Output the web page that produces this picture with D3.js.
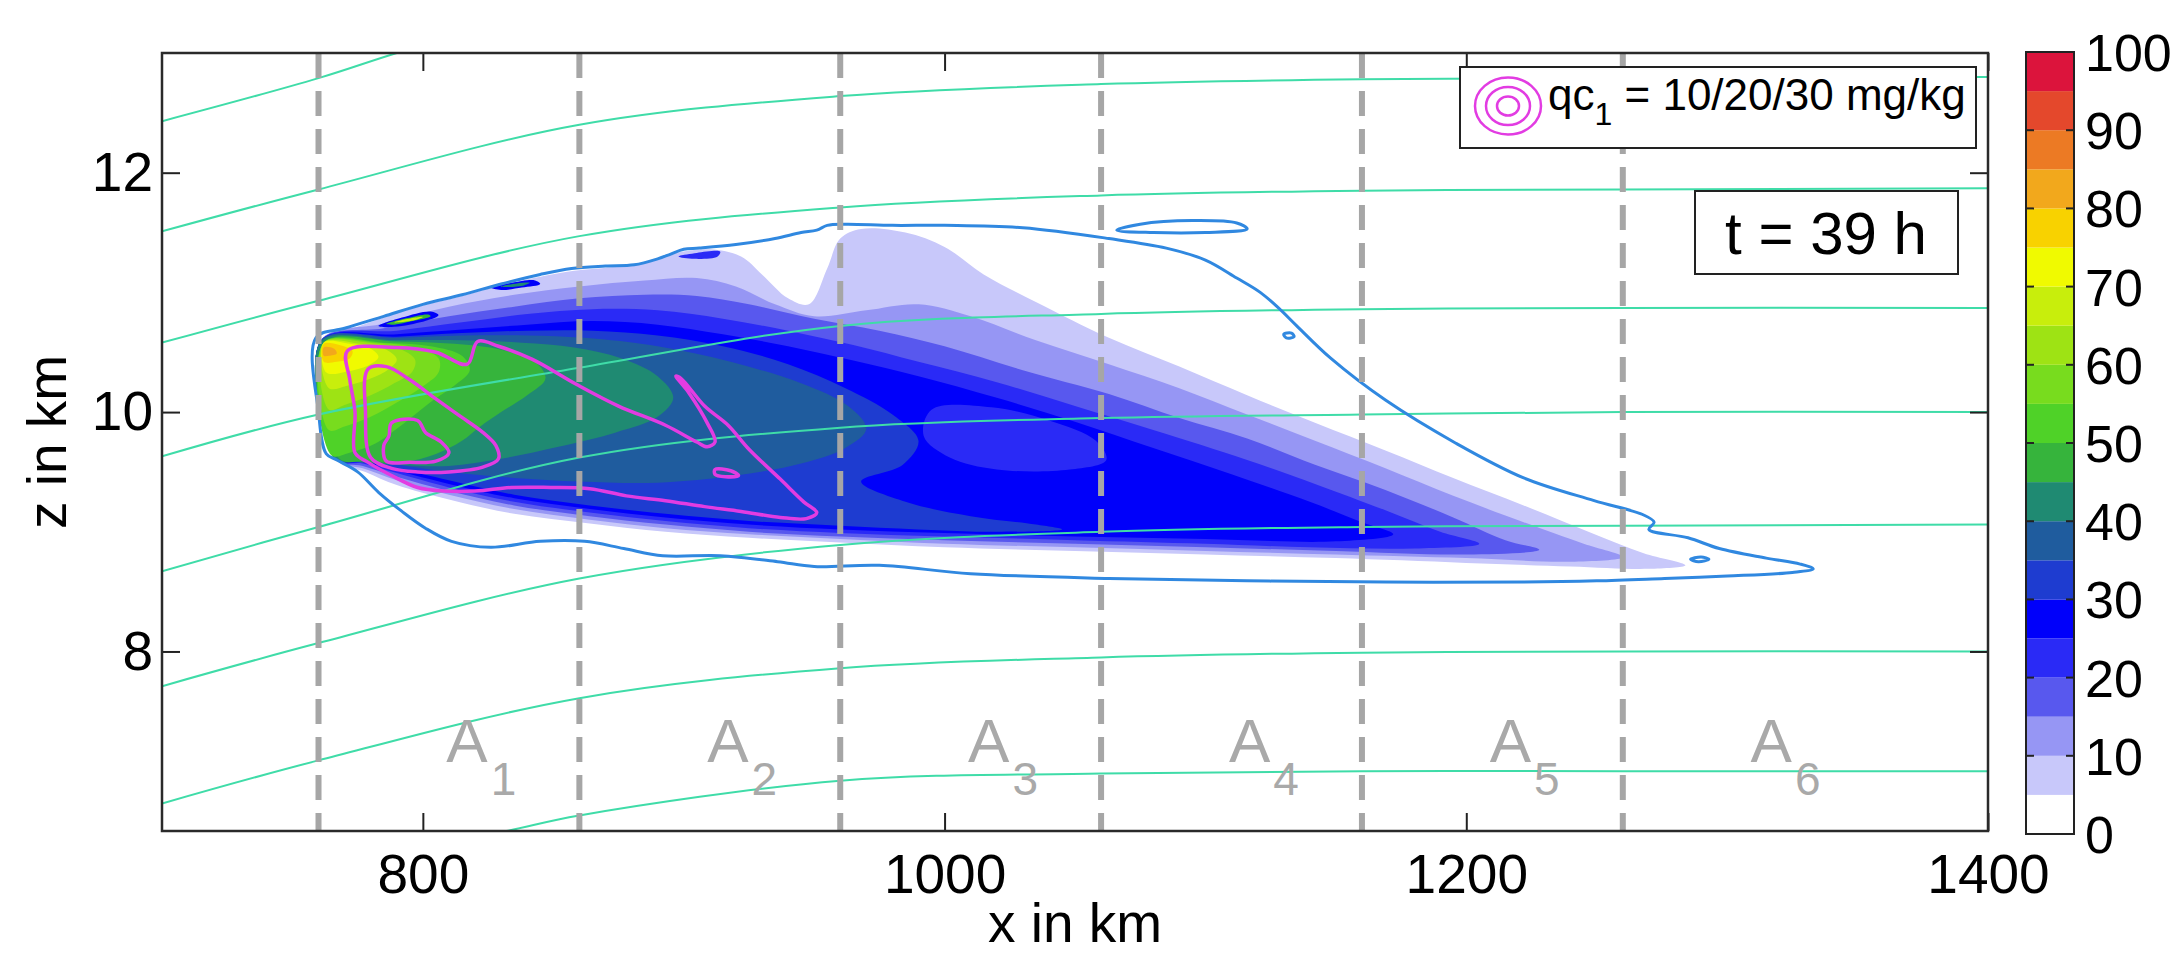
<!DOCTYPE html>
<html>
<head>
<meta charset="utf-8">
<script src="https://cdn.jsdelivr.net/npm/d3@7"></script>
<style>
body { margin: 0; background: #fff; }
svg { display: block; font-family: "Liberation Sans", Arial, Helvetica, sans-serif; }
</style>
</head>
<body>
<svg id="chart" width="2175" height="955"></svg>
<script>
// Axis ticks
const xTicks = [800, 1000, 1200, 1400];
const zTicks = [8, 10, 12];
const cbTicks = [0, 10, 20, 30, 40, 50, 60, 70, 80, 90, 100];

// Colour bands (lower bound of each 5-unit band)
const bandEdges = [0, 5, 10, 15, 20, 25, 30, 35, 40, 45, 50, 55, 60, 65, 70, 75, 80, 85, 90, 95];
const bandColors = ["#ffffff", "#c8c8fa", "#9696f4", "#5858ee", "#2a2af6", "#0000fa", "#1e3cd0", "#1f5c9e",
    "#1f8a72", "#36b43c", "#4fd228", "#78dc1e", "#9ee314", "#c8ee0c", "#f0fa00", "#f8d200",
    "#f2a81c", "#ec7a24", "#e4482c", "#dc143c"];

// Area boundaries and names
const areaEdges = [760, 860, 960, 1060, 1160, 1260];
const areaNames = ["1", "2", "3", "4", "5", "6"];

// Isentropes [x km, z km]
const theta1 = [[700, 12.43], [760, 12.79], [790, 13.0], [830, 13.25]];
const theta2 = [[700, 11.51], [760, 11.86], [860, 12.40], [960, 12.64], [1060, 12.74], [1160, 12.78], [1260, 12.79], [1400, 12.80]];
const theta3 = [[700, 10.58], [760, 10.93], [860, 11.47], [960, 11.71], [1060, 11.81], [1160, 11.85], [1260, 11.86], [1400, 11.87]];
const theta4 = [[700, 9.63], [760, 9.98], [860, 10.37], [960, 10.72], [1060, 10.82], [1160, 10.86], [1260, 10.87], [1400, 10.87]];
const theta5 = [[700, 8.67], [760, 9.04], [860, 9.62], [960, 9.87], [1060, 9.95], [1160, 9.98], [1260, 10.0], [1400, 10.0]];
const theta6 = [[700, 7.71], [760, 8.07], [860, 8.61], [960, 8.89], [1060, 9.0], [1160, 9.04], [1260, 9.05], [1400, 9.06]];
const theta7 = [[700, 6.73], [760, 7.09], [860, 7.61], [960, 7.86], [1060, 7.95], [1160, 7.99], [1260, 8.0], [1400, 8.0]];
const theta8 = [[790, 6.32], [832, 6.5], [860, 6.63], [960, 6.92], [1060, 6.98], [1160, 7.0], [1260, 7.0], [1400, 7.0]];

// Cloud outline
const outline = [[759, 10.62], [770, 10.7], [785, 10.8], [800, 10.9], [815, 10.98], [830, 11.07], [845, 11.15], [857, 11.2],
    [870, 11.22], [881, 11.23], [890, 11.28], [895, 11.32], [900, 11.36], [906, 11.37], [920, 11.4], [935, 11.45],
    [945, 11.5], [951, 11.52], [955, 11.56], [962, 11.57], [980, 11.56], [1000, 11.56], [1030, 11.54], [1063, 11.45],
    [1085, 11.37], [1100, 11.27], [1112, 11.12], [1121, 11.0], [1128, 10.87], [1135, 10.72], [1148, 10.45], [1169, 10.1],
    [1196, 9.74], [1222, 9.45], [1249, 9.26], [1268, 9.14], [1272, 9.08], [1270, 9.02], [1285, 8.95], [1297, 8.86],
    [1315, 8.78], [1328, 8.73], [1333, 8.69], [1325, 8.66], [1300, 8.63], [1276, 8.61], [1250, 8.59], [1222, 8.58],
    [1169, 8.58], [1116, 8.59], [1063, 8.61], [1010, 8.65], [975, 8.72], [950, 8.71], [936, 8.75], [914, 8.8],
    [892, 8.8], [877, 8.86], [862, 8.92], [845, 8.92], [826, 8.87], [811, 8.92], [801, 9.03], [792, 9.17],
    [783, 9.33], [775, 9.5], [767, 9.6], [763, 9.65], [760, 10.0]];
const outlineBits = [
    [[1066, 11.52], [1075, 11.57], [1095, 11.6], [1112, 11.58], [1116, 11.53], [1100, 11.5], [1080, 11.5]],
    [[1130, 10.65], [1133, 10.66], [1134, 10.63], [1131, 10.62]],
    [[1286, 8.77], [1290, 8.79], [1293, 8.77], [1289, 8.75]]
];

// qc1 contours (10, 20, 30 mg/kg)
const qc10 = [[771, 10.51], [790, 10.54], [805, 10.5], [817, 10.4], [821, 10.59], [829, 10.55], [842, 10.44],
    [859, 10.23], [875, 10.05], [893, 9.89], [905, 9.75], [909, 9.71], [912, 9.75], [909, 9.91], [902, 10.16],
    [897, 10.3], [899, 10.28], [908, 10.05], [917, 9.89], [925, 9.69], [937, 9.44], [946, 9.25], [951, 9.16],
    [947, 9.11], [937, 9.12], [922, 9.17], [908, 9.21], [893, 9.26], [878, 9.3], [864, 9.36], [849, 9.37],
    [834, 9.37], [820, 9.34], [808, 9.34], [798, 9.37], [788, 9.47], [779, 9.58], [774, 9.66], [774, 10.0], [772, 10.27]];
const qc20 = [[779, 10.36], [786, 10.38], [795, 10.27], [805, 10.11], [814, 9.97], [823, 9.83], [828, 9.72],
    [829, 9.61], [823, 9.54], [810, 9.5], [798, 9.5], [788, 9.53], [780, 9.62], [778, 10.0]];
const qc30 = [[788, 9.91], [798, 9.93], [801, 9.83], [807, 9.75], [810, 9.66], [805, 9.59], [795, 9.58],
    [786, 9.59], [785, 9.72], [787, 9.8]];
const qcSmall = [[912, 9.52], [918, 9.51], [921, 9.47], [916, 9.46], [912, 9.48]];

// Filled regions, one list of rings per band (lower bound in name)
const lev5 = [[[761, 10.6], [772, 10.69], [785, 10.79], [800, 10.89], [815, 10.97], [830, 11.06], [845, 11.13], [858, 11.18],
    [872, 11.21], [885, 11.25], [897, 11.33], [910, 11.36], [922, 11.3], [930, 11.15], [940, 10.95], [948, 10.9],
    [955, 11.2], [960, 11.45], [968, 11.53], [985, 11.5], [1000, 11.38], [1015, 11.15], [1035, 10.92], [1063, 10.62],
    [1090, 10.38], [1116, 10.14], [1142, 9.91], [1169, 9.68], [1195, 9.45], [1222, 9.22], [1248, 8.99], [1268, 8.82],
    [1284, 8.72], [1270, 8.69], [1240, 8.71], [1200, 8.74], [1150, 8.78], [1100, 8.81], [1050, 8.84], [1000, 8.87],
    [960, 8.91], [925, 8.95], [893, 9.0], [864, 9.07], [835, 9.15], [810, 9.27], [790, 9.39], [778, 9.5], [767, 9.6]]];
const lev10 = [[[761, 10.6], [785, 10.74], [810, 10.88], [835, 10.98], [860, 11.05], [885, 11.1], [905, 11.12], [920, 11.05],
    [935, 10.9], [950, 10.8], [970, 10.85], [990, 10.9], [1010, 10.8], [1035, 10.6], [1063, 10.4], [1090, 10.2],
    [1116, 9.98], [1142, 9.76], [1169, 9.53], [1195, 9.3], [1222, 9.08], [1245, 8.9], [1260, 8.79], [1240, 8.75],
    [1200, 8.78], [1150, 8.81], [1100, 8.84], [1050, 8.87], [1000, 8.9], [960, 8.94], [925, 8.98], [893, 9.03],
    [864, 9.1], [835, 9.19], [810, 9.31], [790, 9.43], [777, 9.53], [767, 9.6]]];
const lev15 = [[[761, 10.6], [785, 10.7], [810, 10.8], [835, 10.88], [860, 10.95], [885, 10.98], [905, 10.97], [925, 10.9],
    [950, 10.78], [975, 10.68], [1000, 10.55], [1030, 10.35], [1063, 10.15], [1090, 9.95], [1116, 9.78], [1142, 9.56],
    [1169, 9.35], [1195, 9.12], [1215, 8.93], [1228, 8.85], [1200, 8.81], [1150, 8.84], [1100, 8.87], [1050, 8.9],
    [1000, 8.93], [960, 8.96], [925, 9.0], [893, 9.06], [864, 9.13], [835, 9.22], [810, 9.34], [790, 9.46],
    [777, 9.55], [767, 9.6]]];
const lev20 = [[[761, 10.6], [790, 10.68], [815, 10.75], [840, 10.82], [865, 10.86], [890, 10.85], [915, 10.78], [940, 10.68],
    [965, 10.56], [990, 10.42], [1020, 10.25], [1050, 10.05], [1080, 9.85], [1116, 9.6], [1142, 9.4], [1169, 9.18],
    [1190, 9.0], [1205, 8.9], [1180, 8.86], [1140, 8.87], [1100, 8.9], [1050, 8.93], [1000, 8.96], [960, 8.99],
    [925, 9.03], [893, 9.09], [864, 9.16], [835, 9.25], [810, 9.37], [790, 9.49], [777, 9.57], [767, 9.6]],
    [[898, 11.3], [905, 11.33], [914, 11.34], [913, 11.3], [904, 11.28]]];
const lev25 = [[[761, 10.6], [790, 10.65], [815, 10.69], [840, 10.73], [865, 10.76], [890, 10.73], [915, 10.65], [940, 10.55],
    [965, 10.43], [990, 10.3], [1020, 10.12], [1050, 9.92], [1080, 9.7], [1110, 9.48], [1140, 9.25], [1160, 9.08],
    [1172, 8.98], [1150, 8.92], [1100, 8.94], [1050, 8.96], [1000, 8.99], [960, 9.02], [925, 9.06], [893, 9.12],
    [864, 9.19], [835, 9.28], [810, 9.4], [790, 9.51], [777, 9.58], [767, 9.6]],
    [[995, 10.02], [1018, 10.04], [1040, 9.93], [1058, 9.76], [1062, 9.6], [1048, 9.52], [1020, 9.52], [1002, 9.62], [992, 9.8]],
    [[783, 10.72], [792, 10.79], [803, 10.84], [806, 10.81], [799, 10.75], [788, 10.71]],
    [[826, 11.04], [834, 11.08], [843, 11.1], [845, 11.07], [838, 11.04], [830, 11.02]]];
const lev30 = [[[761, 10.6], [790, 10.63], [815, 10.66], [840, 10.68], [865, 10.68], [890, 10.64], [915, 10.55], [940, 10.4],
    [962, 10.2], [980, 9.98], [990, 9.76], [984, 9.56], [968, 9.42], [985, 9.25], [1010, 9.13], [1035, 9.06],
    [1045, 9.02], [1020, 9.0], [990, 9.02], [960, 9.05], [925, 9.09], [893, 9.15], [864, 9.22], [835, 9.31],
    [810, 9.43], [790, 9.53], [777, 9.59], [767, 9.6]]];
const lev35 = [[[761, 10.6], [790, 10.62], [815, 10.64], [840, 10.64], [862, 10.62], [890, 10.55], [918, 10.42], [945, 10.24],
    [963, 10.05], [970, 9.86], [962, 9.7], [945, 9.57], [920, 9.47], [890, 9.41], [860, 9.42], [835, 9.45],
    [810, 9.5], [790, 9.56], [777, 9.59], [767, 9.6]]];
const lev40 = [[[761, 10.59], [790, 10.6], [815, 10.6], [838, 10.58], [858, 10.54], [876, 10.45], [890, 10.3], [896, 10.12],
    [890, 9.96], [874, 9.83], [852, 9.71], [830, 9.61], [810, 9.55], [790, 9.56], [772, 9.59], [766, 9.61]],
    [[830, 11.05], [836, 11.075], [841, 11.08], [839, 11.06], [833, 11.045]]];
const lev45 = [[[762, 10.58], [790, 10.59], [812, 10.57], [830, 10.52], [843, 10.42], [847, 10.28], [840, 10.14], [830, 10.0],
    [822, 9.88], [815, 9.76], [805, 9.65], [792, 9.58], [778, 9.59], [768, 9.61]],
    [[786, 10.735], [794, 10.785], [802, 10.815], [803, 10.8], [796, 10.76], [789, 10.73]]];
const lev50 = [[[762, 10.58], [785, 10.58], [803, 10.55], [815, 10.47], [818, 10.35], [812, 10.22], [804, 10.1], [797, 9.98],
    [790, 9.86], [782, 9.74], [772, 9.66], [765, 9.64]]];
const lev55 = [[[762, 10.58], [782, 10.58], [797, 10.54], [806, 10.45], [806, 10.33], [799, 10.2], [790, 10.08], [780, 9.96],
    [770, 9.88], [764, 9.85]]];
const lev60 = [[[762, 10.58], [779, 10.58], [791, 10.53], [797, 10.44], [796, 10.34], [789, 10.24], [780, 10.14], [770, 10.06],
    [764, 10.02]]];
const lev65 = [[[762, 10.58], [776, 10.57], [786, 10.52], [790, 10.44], [787, 10.36], [780, 10.28], [771, 10.22], [764, 10.2]],
    [[789, 10.75], [796, 10.785], [800, 10.795], [797, 10.77], [791, 10.75]]];
const lev70 = [[[762, 10.58], [772, 10.57], [780, 10.53], [783, 10.46], [779, 10.39], [771, 10.34], [763, 10.33]]];
const lev75 = [[[762, 10.57], [768, 10.56], [773, 10.51], [772, 10.45], [767, 10.42], [762, 10.42]]];
const lev80 = [[[762, 10.54], [766, 10.53], [767, 10.49], [764, 10.47], [762, 10.47]]];

const bands = [[5, lev5], [10, lev10], [15, lev15], [20, lev20], [25, lev25], [30, lev30], [35, lev35], [40, lev40],
    [45, lev45], [50, lev50], [55, lev55], [60, lev60], [65, lev65], [70, lev70], [75, lev75], [80, lev80]];

// Layout
const plot = { left: 162, right: 1988, top: 53, bottom: 831 };
const bar = { left: 2026, right: 2074, top: 52, bottom: 834 };

const svg = d3.select("#chart");

const x = d3.scaleLinear().domain([700, 1400]).range([plot.left, plot.right]);
const z = d3.scaleLinear().domain([6.5, 13]).range([plot.bottom, plot.top]);
const cb = d3.scaleLinear().domain([0, 100]).range([bar.bottom, bar.top]);
const color = d3.scaleThreshold().domain(bandEdges.slice(1)).range(bandColors);

svg.append("defs").append("clipPath").attr("id", "clip")
    .append("rect")
    .attr("x", plot.left).attr("y", plot.top)
    .attr("width", plot.right - plot.left).attr("height", plot.bottom - plot.top);

const g = svg.append("g").attr("clip-path", "url(#clip)");

const ring = d3.line().x(d => x(d[0])).y(d => z(d[1])).curve(d3.curveCatmullRomClosed.alpha(0.5));
const open = d3.line().x(d => x(d[0])).y(d => z(d[1])).curve(d3.curveCatmullRom.alpha(0.5));

// Filled bands
g.selectAll("path.band")
    .data(bands)
    .join("path")
    .attr("class", "band")
    .attr("d", d => d[1].map(r => ring(r)).join(""))
    .attr("fill-rule", "evenodd")
    .attr("fill", d => color(d[0]));

// Isentropes
g.selectAll("path.theta")
    .data([theta1, theta2, theta3, theta4, theta5, theta6, theta7, theta8])
    .join("path")
    .attr("class", "theta")
    .attr("d", open)
    .attr("fill", "none")
    .attr("stroke", "#3fdca8")
    .attr("stroke-width", 2);

// Cloud outline
g.selectAll("path.outline")
    .data([outline].concat(outlineBits))
    .join("path")
    .attr("class", "outline")
    .attr("d", ring)
    .attr("fill", "none")
    .attr("stroke", "#3088e0")
    .attr("stroke-width", 3);

// qc contours
g.selectAll("path.qc")
    .data([qc10, qc20, qc30, qcSmall])
    .join("path")
    .attr("class", "qc")
    .attr("d", ring)
    .attr("fill", "none")
    .attr("stroke", "#e23ce2")
    .attr("stroke-width", 3.5);

// Area boundaries
g.selectAll("line.edge")
    .data(areaEdges)
    .join("line")
    .attr("class", "edge")
    .attr("x1", d => x(d)).attr("x2", d => x(d))
    .attr("y1", plot.top).attr("y2", plot.bottom)
    .attr("stroke", "#a6a6a6")
    .attr("stroke-width", 6)
    .attr("stroke-dasharray", "25,13");

// Area labels
const names = g.selectAll("g.name")
    .data(areaNames)
    .join("g")
    .attr("class", "name")
    .attr("fill", "#a9a9a9");
names.append("text")
    .attr("x", (d, i) => x(areaEdges[i] + 49))
    .attr("y", z(7.08))
    .attr("font-size", 62)
    .text("A");
names.append("text")
    .attr("x", (d, i) => x(areaEdges[i] + 66))
    .attr("y", z(6.8))
    .attr("font-size", 46)
    .text(d => d);

// Axes
const ticks = svg.append("g");

ticks.append("g")
    .attr("transform", `translate(0,${plot.bottom})`)
    .call(d3.axisBottom(x).tickValues(xTicks).tickSize(-18).tickPadding(23).tickFormat(d3.format("d")));
ticks.append("g")
    .attr("transform", `translate(0,${plot.top})`)
    .call(d3.axisTop(x).tickValues(xTicks).tickSize(-18).tickFormat(""));
ticks.append("g")
    .attr("transform", `translate(${plot.left},0)`)
    .call(d3.axisLeft(z).tickValues(zTicks).tickSize(-18).tickPadding(9).tickFormat(d3.format("d")));
ticks.append("g")
    .attr("transform", `translate(${plot.right},0)`)
    .call(d3.axisRight(z).tickValues(zTicks).tickSize(-18).tickFormat(""));

ticks.selectAll("g").attr("font-size", 55).attr("font-family", null);
ticks.selectAll(".domain").remove();
ticks.selectAll(".tick line").attr("stroke", "#222").attr("stroke-width", 2);
ticks.selectAll(".tick text").attr("fill", "#000");

svg.append("rect")
    .attr("x", plot.left).attr("y", plot.top)
    .attr("width", plot.right - plot.left).attr("height", plot.bottom - plot.top)
    .attr("fill", "none")
    .attr("stroke", "#2a2a2a")
    .attr("stroke-width", 2.5);

svg.append("text")
    .attr("x", (plot.left + plot.right) / 2)
    .attr("y", 942)
    .attr("text-anchor", "middle")
    .attr("font-size", 55)
    .text("x in km");

svg.append("text")
    .attr("transform", `translate(66,${(plot.top + plot.bottom) / 2}) rotate(-90)`)
    .attr("text-anchor", "middle")
    .attr("font-size", 55)
    .text("z in km");

// Legend for qc contours
const legend = svg.append("g");
legend.append("rect")
    .attr("x", 1460).attr("y", 67).attr("width", 516).attr("height", 81)
    .attr("fill", "#fff").attr("stroke", "#222").attr("stroke-width", 2);
legend.selectAll("ellipse")
    .data([1, 2, 3])
    .join("ellipse")
    .attr("cx", 1508).attr("cy", 106)
    .attr("rx", d => 11 * d).attr("ry", d => 9.5 * d)
    .attr("fill", "none").attr("stroke", "#e23ce2").attr("stroke-width", 2.5);
const lt = legend.append("text").attr("x", 1548).attr("y", 110).attr("font-size", 44);
lt.append("tspan").text("qc");
lt.append("tspan").attr("dy", 15).attr("font-size", 32).text("1");
lt.append("tspan").attr("dy", -15).text(" = 10/20/30 mg/kg");

// Time stamp
svg.append("rect")
    .attr("x", 1695).attr("y", 191).attr("width", 263).attr("height", 83)
    .attr("fill", "#fff").attr("stroke", "#222").attr("stroke-width", 2);
svg.append("text")
    .attr("x", 1826).attr("y", 254)
    .attr("text-anchor", "middle")
    .attr("font-size", 60)
    .text("t = 39 h");

// Colour bar
const cbar = svg.append("g");
cbar.selectAll("rect.cell")
    .data(bandEdges)
    .join("rect")
    .attr("class", "cell")
    .attr("x", bar.left)
    .attr("y", d => cb(d + 5))
    .attr("width", bar.right - bar.left)
    .attr("height", d => cb(d) - cb(d + 5))
    .attr("fill", d => color(d));
cbar.selectAll("line.tl")
    .data(cbTicks)
    .join("line")
    .attr("class", "tl")
    .attr("x1", bar.left).attr("x2", bar.left + 8)
    .attr("y1", d => cb(d)).attr("y2", d => cb(d))
    .attr("stroke", "#222").attr("stroke-width", 2);
cbar.selectAll("line.tr")
    .data(cbTicks)
    .join("line")
    .attr("class", "tr")
    .attr("x1", bar.right - 8).attr("x2", bar.right)
    .attr("y1", d => cb(d)).attr("y2", d => cb(d))
    .attr("stroke", "#222").attr("stroke-width", 2);
cbar.append("rect")
    .attr("x", bar.left).attr("y", bar.top)
    .attr("width", bar.right - bar.left).attr("height", bar.bottom - bar.top)
    .attr("fill", "none").attr("stroke", "#222").attr("stroke-width", 2);
cbar.selectAll("text")
    .data(cbTicks)
    .join("text")
    .attr("x", 2085)
    .attr("y", d => cb(d) + 19)
    .attr("font-size", 52)
    .text(d => d);
</script>
</body>
</html>
